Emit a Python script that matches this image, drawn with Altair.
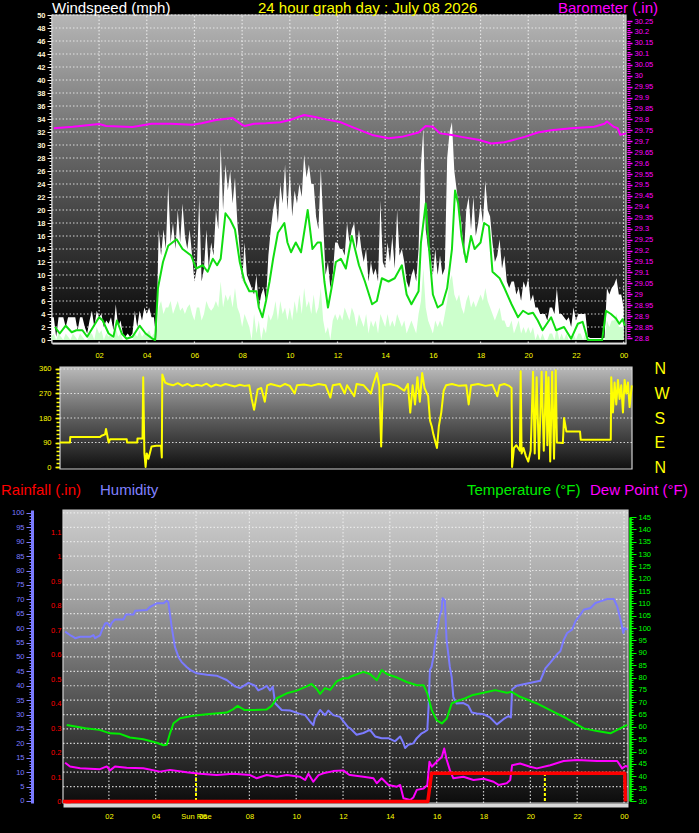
import altair as alt
import pandas as pd

# ---------------- data ----------------
# wind gust / average wind (mph), one value every 0.1 h from 00:00
WIND_GUST = [
    3.5, 3.5, 0.5, 3.5, 3.5, 3.5, 2, 3.5, 3.5, 3.5,
    3.5, 1.5, 3.5, 3.5, 2, 1, 3, 4.5, 2, 4.5,
    3.5, 4, 2, 3, 2.5, 3.5, 1.5, 5.5, 2, 3,
    1, 0.5, 1, 0.5, 1, 4.5, 2, 4.5, 3, 5,
    4, 5, 3.5, 3.5, 0, 17, 13, 17, 14, 24,
    15, 18, 14, 20, 15, 21, 16, 14, 17, 13,
    9, 11, 22, 9, 11, 17, 11, 15, 13, 20,
    17, 30, 20, 27, 23, 26, 21, 25, 18, 14,
    9, 15, 10, 9, 8, 7, 10, 5, 7, 8,
    6, 13, 17, 20, 22, 18, 24, 21, 27, 20,
    26, 19, 23, 21, 24, 22, 28.5, 25, 27, 24,
    24, 19, 17, 26.5, 18, 10, 12, 8, 10, 15,
    15, 14, 14, 13, 18, 15, 17, 18, 14, 17,
    14, 12, 14, 9, 12, 10, 11, 9, 21.5, 12,
    11, 15, 12, 16, 11, 20, 13, 14, 12, 9,
    8, 10, 11, 9, 14, 27, 32.5, 17, 14, 13,
    10, 14, 10, 13, 10, 11, 28, 32, 33.5, 26,
    23, 20, 18, 13, 20, 22, 17, 22, 16, 18,
    21, 18, 24.5, 20, 19, 15, 12, 13, 15.5, 11,
    13, 9, 8, 9, 9, 7, 8, 6, 9, 8,
    9.5, 6, 7, 5, 5, 4, 4, 4, 3, 5,
    5, 4, 8, 4, 4, 3.5, 3, 3.5, 2, 5,
    3, 4, 4, 4, 4, 0.5, 0.3, 0.3, 0.3, 0.3,
    0.3, 0.3, 0.3, 8, 7, 8, 8.5, 9.5, 7, 7,
    5,
]
WIND_AVG = [
    0.5, 1, 0, 1, 0.5, 0, 1, 0.5, 0, 1,
    0.5, 0, 1, 0.5, 0, 0, 1, 1, 0, 2,
    1, 1.5, 0, 1, 0.5, 1, 0, 2, 0.5, 1,
    0, 0, 0, 0, 0, 1, 0.5, 1.5, 0.5, 1,
    1, 1.5, 0.5, 1, 0, 5, 6, 4, 5, 5,
    6, 4, 5, 6, 4.5, 5, 4, 5, 5.5, 4,
    3, 5, 5, 3, 4, 6, 5, 4.5, 5, 6,
    5, 9, 5, 7, 6, 7, 5, 8, 5, 4,
    2, 4, 3, 2, 0, 4, 1, 3, 0, 2,
    1, 4, 3, 4, 6, 3, 6, 4, 5, 3,
    5, 3, 6, 4, 7, 4, 8, 5, 6, 4,
    7, 4, 5, 8, 3, 1, 2, 0, 3, 4,
    3, 4, 3, 5, 4, 3, 5, 4, 2, 4,
    3, 2, 4, 1, 3, 2, 3, 1, 4, 3,
    2, 4, 2, 3, 2, 4, 3, 2, 3, 1,
    2, 3, 2, 1, 4, 6, 11, 5, 3, 2,
    1, 3, 2, 3, 2, 4, 6, 9, 10, 7,
    6, 7, 5, 4, 6, 7, 5, 6, 5, 6,
    7, 6, 8, 6, 5, 4, 3, 4, 5, 3,
    3, 2, 2, 3, 1, 2, 3, 1, 2, 1,
    2, 1, 2, 0, 1, 0, 1, 0, 0, 1,
    1, 0, 2, 0, 1, 0, 1, 0, 0, 1,
    0, 1, 1, 0, 1, 0, 0, 0, 0, 0,
    0, 0, 0, 3, 2, 3, 3, 4, 2, 2,
    2,
]
# 10-minute average wind (green line)
TEN_MIN_H = [0.15, 0.35, 0.6, 0.85, 1.05, 1.3, 1.5, 1.75, 2.0, 2.15,
             2.4, 2.6, 2.75, 2.95, 3.15, 3.4, 3.7, 3.95, 4.2, 4.35,
             4.47, 4.68, 4.9, 5.25, 5.5, 5.86, 6.07, 6.35, 6.55, 6.77,
             6.95, 7.1, 7.3, 7.5, 7.7, 7.9, 8.1, 8.3, 8.6, 8.7,
             8.85, 9.0, 9.15, 9.3, 9.5, 9.77, 9.9, 10.05, 10.25, 10.47,
             10.75, 10.95, 11.16, 11.3, 11.45, 11.6, 11.75, 11.93, 12.14, 12.35,
             12.6, 12.9, 13.15, 13.45, 13.65, 13.86, 14.14, 14.4, 14.7, 14.9,
             15.1, 15.4, 15.5, 15.7, 15.84, 16.0, 16.2, 16.4, 16.6, 16.8,
             16.93, 17.06, 17.2, 17.4, 17.6, 17.75, 18.0, 18.15, 18.35, 18.5,
             18.8, 19.0, 19.3, 19.57, 19.78, 20.0, 20.2, 20.4, 20.6, 20.96,
             21.17, 21.5, 21.8, 22.08, 22.28, 22.5, 22.8, 23.1, 23.26, 23.47,
             23.68, 23.82, 23.96, 24.05]
TEN_MIN_V = [2.0, 1.0, 2.2, 1.2, 1.5, 1.5, 0.5, 2.0, 3.5, 3.0,
             1.0, 0.5, 3.0, 1.0, 0.2, 0.5, 2.2, 1.0, 0.3, 0.0,
             8.0, 12.0, 14.5, 15.5, 14.0, 13.0, 11.0, 11.5, 10.5, 12.5,
             11.5, 12.5, 19.5, 18.5, 17.0, 12.0, 9.0, 7.5, 7.5, 5.0,
             3.5, 6.0, 9.0, 12.5, 16.5, 18.0, 15.0, 13.5, 15.0, 13.5,
             20.0, 14.0, 15.0, 15.0, 9.0, 5.0, 8.0, 12.0, 12.5, 11.0,
             16.0, 11.5, 9.0, 5.5, 6.0, 9.5, 9.0, 9.5, 11.5, 7.0,
             5.5, 7.5, 15.0, 21.0, 14.0, 7.0, 5.0, 5.5, 8.0, 14.0,
             23.0, 21.0, 16.0, 12.0, 16.0, 14.0, 15.0, 18.0, 17.5, 10.5,
             9.5, 8.0, 5.5, 3.5, 4.5, 4.0, 4.2, 3.0, 1.5, 3.5,
             1.5, 2.0, 0.2, 2.5, 2.8, 0.0, 0.0, 0.0, 4.5, 4.0,
             3.3, 2.5, 3.2, 2.2]
# barometer (inHg)
BARO_H = [0.1, 0.9, 2.0, 2.3, 3.4, 4.2, 5.0, 5.9, 6.3, 6.9, 7.6, 8.0, 8.1, 8.5,
          9.0, 9.6, 10.0, 10.6, 11.0, 11.5, 12.1, 12.6, 13.45, 14.14, 14.7, 15.4,
          15.7, 16.0, 16.3, 16.8, 17.2, 17.9, 18.45, 19.0, 19.85, 20.4, 20.96,
          21.8, 22.77, 23.2, 23.3, 23.6, 23.75, 23.86, 24.1]
BARO_V = [29.759, 29.766, 29.779, 29.770, 29.765, 29.780, 29.780, 29.775, 29.782,
          29.797, 29.806, 29.775, 29.770, 29.780, 29.782, 29.787, 29.797, 29.820,
          29.812, 29.800, 29.788, 29.766, 29.729, 29.714, 29.720, 29.740, 29.770,
          29.766, 29.736, 29.729, 29.720, 29.707, 29.690, 29.695, 29.720, 29.740,
          29.750, 29.759, 29.766, 29.780, 29.790, 29.765, 29.760, 29.729, 29.736]
# wind direction (degrees)
DIR_H = [0.16, 0.58, 0.59, 1.84, 1.9, 2.05, 2.09, 2.2, 2.26, 2.96, 2.97, 3.4, 3.41,
         3.62, 3.65, 3.7, 3.75, 3.8, 3.87, 4.0, 4.2, 4.4, 4.43, 4.45, 4.57,
         4.7, 4.9, 5.1, 5.3, 5.5, 5.7, 5.9, 6.1, 6.3, 6.5, 6.7, 6.9, 7.1, 7.3,
         7.5, 7.7, 7.9, 8.1, 8.2, 8.3, 8.45, 8.6, 8.75, 8.85, 9.0, 9.2, 9.4,
         9.6, 9.8, 10.0, 10.1, 10.4, 10.7, 11.0, 11.3, 11.5, 11.6, 11.9, 12.1,
         12.2, 12.5, 12.6, 12.9, 13.2, 13.3, 13.45, 13.55, 13.63, 13.7, 14.0,
         14.3, 14.6, 14.75, 14.85, 14.95, 15.05, 15.15, 15.25, 15.35, 15.45,
         15.6, 15.68, 15.75, 15.82, 15.97, 16.05, 16.15, 16.25, 16.35, 16.6,
         16.9, 17.2, 17.3, 17.4, 17.7, 18.0, 18.3, 18.5, 18.6, 18.8, 19.0, 19.1,
         19.12, 19.2, 19.3, 19.45, 19.48, 19.52, 19.6, 19.7, 19.8, 19.9, 20.0,
         20.07, 20.15, 20.25, 20.36, 20.45, 20.55, 20.6, 20.65, 20.72, 20.8,
         20.88, 20.95, 21.0, 21.25, 21.3, 21.4, 21.97, 22.0, 23.26, 23.28, 23.35,
         23.42, 23.49, 23.56, 23.63, 23.7, 23.77, 23.84, 23.91, 23.98, 24.05, 24.14]
DIR_V = [90, 90, 110, 110, 115, 120, 140, 90, 102, 102, 90, 90, 105,
         105, 330, 50, 0, 50, 30, 75, 78, 78, 35, 340, 310,
         305, 300, 308, 298, 305, 296, 302, 298, 306, 295, 303, 298, 305, 300,
         296, 302, 298, 300, 250, 210, 285, 290, 240, 300, 305, 300, 296,
         305, 298, 270, 300, 303, 298, 305, 300, 255, 300, 305, 270,
         300, 260, 305, 300, 270, 305, 345, 300, 75, 300, 305,
         298, 280, 305, 200, 300, 230, 330, 240, 345, 290,
         260, 170, 150, 120, 70, 150, 200, 280, 300, 305,
         298, 300, 230, 300, 305, 298, 302, 260, 300, 305, 298, 290,
         0, 70, 80, 60, 352, 50, 70, 40, 20, 60, 350,
         50, 330, 30, 350, 60, 350, 80, 330, 20, 350,
         30, 355, 90, 88, 180, 130, 130, 100, 100, 330, 200,
         310, 230, 320, 250, 300, 200, 320, 270, 310, 220, 300]
# humidity (%)
HUM_H = [0.13, 0.34, 0.48, 0.56, 0.77, 1.2, 1.34, 1.41, 1.62, 1.69, 1.84, 1.93,
         2.05, 2.12, 2.26, 2.62, 2.73, 3.05, 3.12, 3.62, 3.76, 4.04, 4.33, 4.47,
         4.54, 4.68, 4.82, 4.97, 5.1, 5.32, 5.47, 5.75, 6.18, 6.6, 7.03, 7.4, 7.6,
         7.96, 8.24, 8.38, 8.6, 8.74, 8.88, 9.0, 9.1, 9.38, 9.74, 10.1, 10.38,
         10.6, 10.73, 10.8, 11.02, 11.23, 11.37, 11.58, 11.87, 12.23, 12.3,
         12.58, 12.87, 13.15, 13.37, 13.65, 13.94, 14.22, 14.44, 14.58, 14.65,
         14.79, 15.0, 15.15, 15.36, 15.5, 15.6, 15.66, 15.71, 15.78, 15.86,
         15.97, 16.07, 16.14, 16.21, 16.25, 16.35, 16.42, 16.56, 16.64, 16.71,
         16.85, 17.14, 17.35, 17.5, 17.71, 18.0, 18.28, 18.57, 18.85, 19.07,
         19.17, 19.22, 19.42, 19.71, 20.07, 20.42, 20.57, 20.64, 20.85, 21.14,
         21.28, 21.43, 21.57, 21.78, 21.93, 22.14, 22.28, 22.57, 22.78, 22.99,
         23.28, 23.56, 23.71, 23.85, 23.97, 24.02, 24.14]
HUM_V = [58.8, 57.6, 57.0, 56.5, 57.0, 57.0, 57.6, 56.5, 57.5, 59.0, 61.6, 61.8,
         60.5, 61.8, 63.0, 63.0, 64.7, 64.7, 66.0, 66.3, 67.4, 68.6, 68.6, 69.5,
         69.0, 60.5, 53.5, 50.0, 48.3, 46.5, 45.5, 44.3, 43.8, 43.5, 42.0, 39.7, 39.2,
         41.0, 40.0, 38.4, 39.2, 40.0, 38.4, 39.7, 33.9, 31.6, 31.4, 30.4, 29.8,
         27.5, 26.3, 28.7, 31.6, 29.8, 31.4, 29.8, 29.2, 25.5, 25.3,
         23.0, 23.6, 24.7, 22.4, 21.8, 21.8, 20.7, 22.4, 20.1, 18.4,
         19.5, 20.0, 21.8, 23.5, 24.1, 24.7, 34.0, 45.5, 46.6, 50.0,
         57.1, 61.7, 64.6, 66.3, 70.4, 69.5, 56.0, 46.6, 43.0, 36.1,
         33.8, 34.0, 33.1, 30.7, 30.4, 30.1, 29.0, 26.6, 28.4, 29.5,
         29.0, 38.8, 40.0, 40.5, 41.1, 41.7, 44.6, 46.0, 48.0, 50.9,
         52.0, 56.0, 58.3, 59.5, 62.4, 64.7, 66.4, 67.0, 68.7, 69.3,
         70.1, 70.1, 67.5, 63.0, 58.3, 60.0, 59.5]
# temperature (F)
TEMP_H = [0.2, 1.0, 1.6, 2.05, 2.48, 2.9, 3.47, 4.04, 4.33, 4.47, 4.61, 4.76, 5.04,
          5.6, 6.18, 7.03, 7.3, 7.5, 7.8, 8.17, 8.74, 8.95, 9.17, 9.6, 10.02, 10.45,
          10.66, 10.88, 11.02, 11.23, 11.45, 11.73, 12.01, 12.23, 12.3, 12.87, 13.15,
          13.44, 13.65, 13.87, 14.3, 14.72, 15.15, 15.44, 15.6, 15.79, 16.0, 16.22,
          16.43, 16.64, 16.85, 17.2, 17.5, 18.0, 18.5, 18.99, 19.2, 19.56, 20.28,
          20.99, 21.56, 22.28, 22.85, 23.42, 23.71, 24.14]
TEMP_V = [60.8, 59.5, 58.8, 57.4, 57.2, 55.7, 55.0, 53.6, 52.6, 52.8, 57.4, 61.5, 63.5,
          64.5, 65.1, 65.8, 67.1, 68.5, 66.8, 66.8, 67.1, 68.5, 71.6, 73.6, 74.7, 76.4,
          77.4, 75.3, 73.4, 75.7, 75.0, 78.4, 79.7, 79.7, 80.3, 82.3, 81.4,
          78.9, 83.0, 81.4, 80.0, 78.2, 76.9, 76.9, 73.5, 66.8, 62.7, 61.4,
          63.4, 69.5, 70.4, 71.5, 72.8, 73.8, 74.9, 73.8, 74.2, 72.2, 69.5,
          66.1, 63.4, 59.4, 58.3, 57.4, 58.8, 60.8]
# dew point (F)
DEW_H = [0.13, 0.34, 0.77, 1.62, 1.91, 2.05, 2.26, 2.76, 3.47, 4.18, 4.61, 5.32, 5.89,
         6.6, 7.31, 8.03, 8.31, 8.74, 9.17, 9.6, 10.17, 10.38, 10.52, 10.73, 10.95,
         11.16, 11.58, 12.01, 12.23, 12.3, 12.87, 13.3, 13.44, 13.65, 13.94, 14.3,
         14.44, 14.58, 14.87, 15.0, 15.15, 15.44, 15.6, 15.69, 15.79, 16.0, 16.22,
         16.32, 16.43, 16.56, 16.71, 17.14, 17.57, 18.0, 18.43, 18.64, 18.99, 19.14,
         19.22, 19.56, 19.99, 20.28, 20.85, 21.42, 21.99, 22.85, 23.71, 23.92, 24.06,
         24.17]
DEW_V = [45.5, 44.0, 43.3, 42.9, 44.0, 42.4, 44.0, 43.5, 43.3, 41.9, 42.6, 41.6, 41.0,
         40.5, 41.0, 40.5, 39.2, 40.5, 39.8, 40.5, 39.8, 38.5, 41.0, 37.8, 40.5,
         41.2, 42.1, 42.4, 40.8, 40.5, 39.8, 39.2, 37.2, 39.2, 36.5, 35.8,
         36.5, 31.1, 30.4, 31.4, 34.5, 35.1, 36.5, 45.9, 43.9, 45.9, 47.9,
         51.3, 46.6, 42.6, 39.2, 39.8, 38.5, 39.0, 37.8, 36.5, 37.2, 38.5,
         44.5, 45.2, 43.9, 43.2, 44.5, 46.2, 46.6, 46.2, 46.2, 43.2, 44.2,
         43.9]
# rainfall (in)
RAIN_H = [0.04, 15.62, 15.78, 24.03, 24.06]
RAIN_V = [0.0, 0.0, 0.115, 0.115, 0.0]
# sunrise / sunset (hours)
SUN_H = [5.72, 20.62]
SUNRISE_H = [5.72]

# tick / label values
HOUR_TICKS = [2, 4, 6, 8, 10, 12, 14, 16, 18, 20, 22, 24]
P3_VGRID = [2, 4, 5.72, 8, 10, 12, 14, 16, 18, 20, 22, 24]
WIND_TICKS = list(range(0, 51, 2))
WIND_MINOR = [i / 2 for i in range(0, 101)]
BARO_TICKS = [round(28.8 + 0.05 * i, 2) for i in range(30)]
BARO_MINOR = [round(28.8 + 0.01 * i, 2) for i in range(146)]
DIR_TICKS = [0, 90, 180, 270, 360]
DIR_MINOR = list(range(0, 361, 15))
COMPASS = {360: "N", 270: "W", 180: "S", 90: "E", 0: "N"}
HUM_TICKS = list(range(0, 101, 5))
HUM_MINOR = list(range(0, 101, 1))
RAIN_TICKS = [round(0.1 * i, 1) for i in range(12)]
RAIN_MINOR = [round(i / 30, 4) for i in range(34)]
TEMP_TICKS = list(range(30, 146, 5))
TEMP_MINOR = list(range(30, 146, 1))

TITLE_TOP = ["Windspeed (mph)", "24 hour graph day : July 08 2026", "Barometer (.in)"]
TITLE_MID = ["Rainfall (.in)", "Humidity", "Temperature (°F)", "Dew Point (°F)"]

# ---------------- layout (scale domain edges -> pixel edges) ----------------
W, H = 699, 833
P1_X = ([0.025, 24.1], [52, 626])
P1_WIND = ([-0.46, 50], [343, 15])
P1_BARO = ([28.8, 30.25], [338, 21])
P2_X = ([0.16, 24.15], [60, 632])
P2_DIR = ([-7.3, 367.3], [469, 367])
P3_X = ([0.04, 24.17], [63, 628])
P3_HUM = ([-0.7, 101.0], [803, 510])
P3_RAIN = ([0.0, 1.1], [801.5, 532])
P3_TEMP = ([30, 145], [801, 517])

FONT = "Liberation Sans"
HOUR_EXPR = "datum.value >= 24 ? '00' : (datum.value < 10 ? '0' + datum.value : '' + datum.value)"


def S(p):
    return alt.Scale(domain=p[0], range=p[1], nice=False, zero=False)


def ax(orient, offset, values, color, labels=True, tick_size=4, tick_width=1,
       domain_color=None, domain_width=1, label_color=None, pad=2, size=7.5,
       expr=None, fmt=None, bold=False):
    kw = dict(orient=orient, offset=offset, values=values, title=None, grid=False,
              labels=labels, ticks=tick_size > 0, tickSize=tick_size, tickColor=color,
              tickWidth=tick_width, labelOverlap=False, labelFlush=False,
              labelColor=label_color or color, labelFont=FONT, labelFontSize=size,
              labelPadding=pad)
    if bold:
        kw["labelFontWeight"] = "bold"
    if domain_color:
        kw.update(domain=True, domainColor=domain_color, domainWidth=domain_width)
    else:
        kw["domain"] = False
    if expr:
        kw["labelExpr"] = expr
    if fmt:
        kw["format"] = fmt
    return alt.Axis(**kw)


def series(h, v, xp, yp, xaxis=None, yaxis=None):
    df = pd.DataFrame({"h": h, "v": v})
    return alt.Chart(df), dict(x=alt.X("h:Q", scale=S(xp), axis=xaxis),
                               y=alt.Y("v:Q", scale=S(yp), axis=yaxis))


def line(h, v, xp, yp, color, width=2, xaxis=None, yaxis=None):
    c, enc = series(h, v, xp, yp, xaxis, yaxis)
    return c.mark_line(color=color, strokeWidth=width, strokeJoin="round").encode(**enc)


def area(h, v, xp, yp, color, xaxis=None, yaxis=None):
    c, enc = series(h, v, xp, yp, xaxis, yaxis)
    return c.mark_area(color=color, opacity=1).encode(y2=alt.datum(0), **enc)


def axis_only(xp, yp, xaxis=None, yaxis=None):
    c, enc = series([xp[0][0]], [yp[0][0]], xp, yp, xaxis, yaxis)
    return c.mark_point(opacity=0, size=1).encode(**enc)


def background(xp, yp, stops):
    df = pd.DataFrame({"x0": [xp[0][0]], "x1": [xp[0][1]], "y0": [yp[0][0]], "y1": [yp[0][1]]})
    grad = alt.Gradient(gradient="linear",
                        stops=[alt.GradientStop(color=c, offset=o) for o, c in stops],
                        x1=0, x2=0, y1=0, y2=1)
    return alt.Chart(df).mark_rect(fill=grad, stroke="#d0d0d0", strokeWidth=1.2).encode(
        x=alt.X("x0:Q", scale=S(xp), axis=None), x2="x1",
        y=alt.Y("y0:Q", scale=S(yp), axis=None), y2="y1")


GRID_STYLE = dict(color="#eeeeee", strokeWidth=1.2, strokeDash=[1.5, 2], opacity=0.85)


def hgrid(values, xp, yp):
    df = pd.DataFrame({"v": values, "a": xp[0][0], "b": xp[0][1]})
    return alt.Chart(df).mark_rule(**GRID_STYLE).encode(
        y=alt.Y("v:Q", scale=S(yp), axis=None),
        x=alt.X("a:Q", scale=S(xp), axis=None), x2="b")


def vgrid(values, xp, yp):
    df = pd.DataFrame({"h": values, "a": yp[0][0], "b": yp[0][1]})
    return alt.Chart(df).mark_rule(**GRID_STYLE).encode(
        x=alt.X("h:Q", scale=S(xp), axis=None),
        y=alt.Y("a:Q", scale=S(yp), axis=None), y2="b")


def text(label, x, y, color, size=15):
    return alt.Chart(pd.DataFrame({"t": [label]})).mark_text(
        align="left", baseline="middle", font=FONT, fontSize=size, color=color
    ).encode(text="t:N", x=alt.value(x), y=alt.value(y))


WIND_HOURS_G = [i / 10 for i in range(len(WIND_GUST))]
WIND_HOURS_A = [i / 10 for i in range(len(WIND_AVG))]
YEL = "#ffff00"
MAG = "#ff00ff"
BLUE = "#7b7bff"
GRN = "#00ee00"

layers = [
    # ---------- panel 1: wind + barometer ----------
    background(P1_X, P1_WIND, [(0, "#b6b6b6"), (0.5, "#585858"), (1, "#000000")]),
    hgrid(WIND_TICKS[1:], P1_X, P1_WIND),
    vgrid(HOUR_TICKS, P1_X, P1_WIND),
    area(WIND_HOURS_G, WIND_GUST, P1_X, P1_WIND, "#ffffff",
         xaxis=ax("bottom", 343 - H, HOUR_TICKS, "#999999", tick_size=0,
                  domain_color="#f4f4f4", domain_width=2, label_color=YEL, pad=8, expr=HOUR_EXPR),
         yaxis=ax("left", -52, WIND_TICKS, "#f4f4f4", tick_size=5, domain_color="#f4f4f4",
                  domain_width=2, label_color="#fff6d8", pad=2, bold=True)),
    area(WIND_HOURS_A, WIND_AVG, P1_X, P1_WIND, "#ccffcc"),
    line(TEN_MIN_H, TEN_MIN_V, P1_X, P1_WIND, "#11dd11", 2),
    line(BARO_H, BARO_V, P1_X, P1_BARO, MAG, 2,
         yaxis=ax("right", 627 - W, BARO_TICKS, MAG, tick_size=5, tick_width=1.5, pad=2,
                  fmt=".4~r")),
    axis_only(P1_X, P1_WIND, yaxis=ax("left", -52, WIND_MINOR, "#f4f4f4", labels=False, tick_size=3)),
    axis_only(P1_X, P1_BARO, yaxis=ax("right", 627 - W, BARO_MINOR, MAG, labels=False, tick_size=3)),

    # ---------- panel 2: wind direction ----------
    background(P2_X, P2_DIR, [(0, "#bababa"), (0.5, "#5e5e5e"), (1, "#101010")]),
    hgrid([90, 180, 270, 360], P2_X, P2_DIR),
    line(DIR_H, DIR_V, P2_X, P2_DIR, YEL, 2,
         yaxis=ax("left", -60, DIR_TICKS, YEL, tick_size=5, tick_width=1.5, pad=4)),
    axis_only(P2_X, P2_DIR, yaxis=ax("left", -60, DIR_MINOR, YEL, labels=False, tick_size=4,
                                     tick_width=1.5)),
    axis_only(P2_X, P2_DIR, yaxis=ax("right", 632 - W, DIR_TICKS, YEL, tick_size=0, pad=22,
                                     size=16, expr="{'360':'N','270':'W','180':'S','90':'E','0':'N'}[''+datum.value]")),

    # ---------- panel 3: rain / humidity / temperature / dew point ----------
    background(P3_X, P3_HUM, [(0, "#cdcdcd"), (0.3, "#a2a2a2"), (0.62, "#5a5a5a"), (1, "#0c0c0c")]),
    hgrid(HUM_TICKS[1:], P3_X, P3_HUM),
    vgrid(P3_VGRID, P3_X, P3_HUM),
    axis_only(P3_X, P3_HUM, yaxis=ax("left", -65, [], "#cccccc", labels=False, tick_size=0,
                                     domain_color="#cfcfcf", domain_width=4)),
]

sun_df = pd.DataFrame({"h": SUN_H, "lo": 0, "hi": 10})
layers.append(
    alt.Chart(sun_df).mark_rule(color=YEL, strokeWidth=2, strokeDash=[3, 2]).encode(
        x=alt.X("h:Q", scale=S(P3_X), axis=None),
        y=alt.Y("lo:Q", scale=S(P3_HUM), axis=None), y2="hi"))

layers += [
    line(HUM_H, HUM_V, P3_X, P3_HUM, BLUE, 2,
         xaxis=ax("bottom", 805 - H, HOUR_TICKS, "#999999", tick_size=0,
                  domain_color="#d8d8d8", domain_width=4, label_color=YEL, pad=7, expr=HOUR_EXPR),
         yaxis=ax("left", -32, HUM_TICKS, BLUE, tick_size=6, domain_color=BLUE,
                  domain_width=3, pad=2)),
    line(TEMP_H, TEMP_V, P3_X, P3_TEMP, GRN, 2,
         yaxis=ax("right", 630 - W, TEMP_TICKS, "#00ff00", tick_size=6, domain_color="#00ff00",
                  domain_width=2.5, pad=2)),
    line(DEW_H, DEW_V, P3_X, P3_TEMP, MAG, 2),
    line(RAIN_H, RAIN_V, P3_X, P3_RAIN, "#ff0000", 3.5,
         yaxis=ax("left", -70, RAIN_TICKS, "#ff0000", tick_size=5, tick_width=2.5, pad=4,
                  fmt=".2~r")),
    axis_only(P3_X, P3_RAIN, yaxis=ax("left", -70, RAIN_MINOR, "#ff0000", labels=False,
                                      tick_size=5, tick_width=2.5)),
    axis_only(P3_X, P3_HUM, yaxis=ax("left", -32, HUM_MINOR, BLUE, labels=False, tick_size=3)),
    axis_only(P3_X, P3_TEMP, yaxis=ax("right", 630 - W, TEMP_MINOR, "#00ff00", labels=False,
                                      tick_size=3)),
    axis_only(P3_X, P3_HUM, xaxis=ax("bottom", 805 - H, SUNRISE_H, YEL, tick_size=0, pad=7,
                                     expr="'Sun Rise'")),

    # ---------- titles ----------
    text(TITLE_TOP[0], 52, 8, "#ffffff"),
    text(TITLE_TOP[1], 258, 8, YEL),
    text(TITLE_TOP[2], 558, 8, MAG),
    text(TITLE_MID[0], 1, 490, "#ff0000"),
    text(TITLE_MID[1], 100, 490, "#8080ff"),
    text(TITLE_MID[2], 467, 490, "#00ee00"),
    text(TITLE_MID[3], 590, 490, MAG),
]

chart = alt.layer(*layers).resolve_scale(x="independent", y="independent").properties(
    width=W, height=H, background="#000000", padding=0,
    autosize=alt.AutoSizeParams(type="none"),
).configure_view(strokeWidth=0)

chart.save("out.html", embed_options={"renderer": "svg", "actions": False})
